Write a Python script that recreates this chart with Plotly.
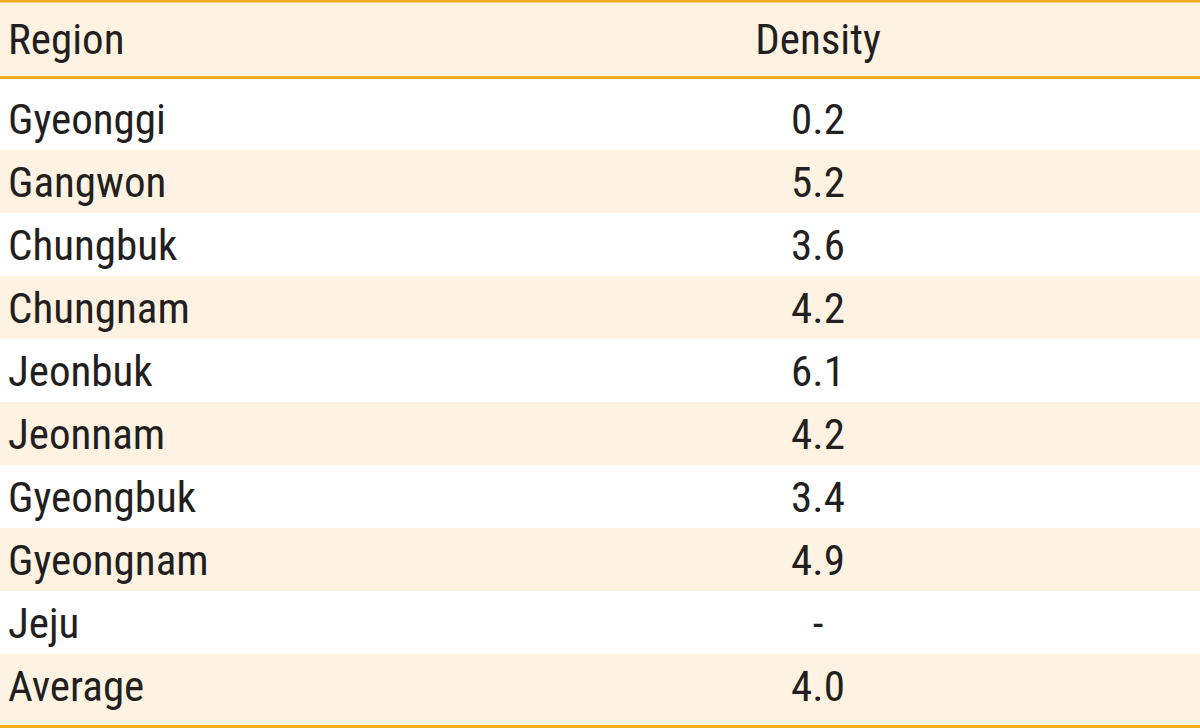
import plotly.graph_objects as go

regions = ["Gyeonggi", "Gangwon", "Chungbuk", "Chungnam", "Jeonbuk",
           "Jeonnam", "Gyeongbuk", "Gyeongnam", "Jeju", "Average"]
density = ["0.2", "5.2", "3.6", "4.2", "6.1", "4.2", "3.4", "4.9", "-", "4.0"]
headers = ["Region", "Density"]

W, H = 1200, 728
ORANGE = "#F2AE1C"
SHADE = "#FEF3E2"
TEXT = "#231F20"
CLEAR = "rgba(0,0,0,0)"
FONT = "Roboto Condensed, Liberation Sans Narrow, DejaVu Sans Condensed, sans-serif"
FS = 43
COLW = [436, 764]
ROW_H = 63

n = len(regions)
row_fill = ["white" if i % 2 == 0 else SHADE for i in range(n)]

# background table (fills only)
bg = go.Table(
    columnwidth=COLW,
    header=dict(values=["", ""], fill_color=SHADE,
                line=dict(color=SHADE, width=0), height=87),
    cells=dict(values=[[""] * n, [""] * n],
               fill_color=[row_fill, row_fill],
               line=dict(color=[row_fill, row_fill], width=1),
               height=ROW_H),
    domain=dict(x=[0, 1], y=[0, 1]),
)

# text table (transparent, offset so text sits centred in rows)
TXT_TOP = 14
txt = go.Table(
    columnwidth=COLW,
    header=dict(values=headers, fill_color=CLEAR,
                line=dict(color=CLEAR, width=0),
                align=["left", "center"],
                font=dict(family=FONT, size=FS, color=TEXT), height=80),
    cells=dict(values=[regions, density], fill_color=CLEAR,
               line=dict(color=CLEAR, width=0),
               align=["left", "center"],
               font=dict(family=FONT, size=FS, color=TEXT), height=ROW_H),
    domain=dict(x=[0, 1], y=[0, 1 - TXT_TOP / H]),
)

fig = go.Figure([bg, txt])

def ypx(px):
    return 1 - px / H

shapes = [
    # white gap under header rule
    dict(type="rect", xref="paper", yref="paper", x0=0, x1=1,
         y0=ypx(88.5), y1=ypx(78), fillcolor="white", line=dict(width=0)),
    # extra shading at bottom of last row
    dict(type="rect", xref="paper", yref="paper", x0=0, x1=1,
         y0=ypx(726), y1=ypx(716), fillcolor=SHADE, line=dict(width=0)),
]
for py, w in [(1.2, 2.5), (77.5, 3), (726.5, 3)]:
    shapes.append(dict(type="line", xref="paper", yref="paper",
                       x0=0, x1=1, y0=ypx(py), y1=ypx(py),
                       line=dict(color=ORANGE, width=w)))

fig.update_layout(
    width=W, height=H,
    margin=dict(l=0, r=0, t=0, b=0),
    paper_bgcolor="white",
    shapes=shapes,
)

fig.write_html("out.html", config={"displayModeBar": False},
               post_script="document.body.style.margin='0';")
